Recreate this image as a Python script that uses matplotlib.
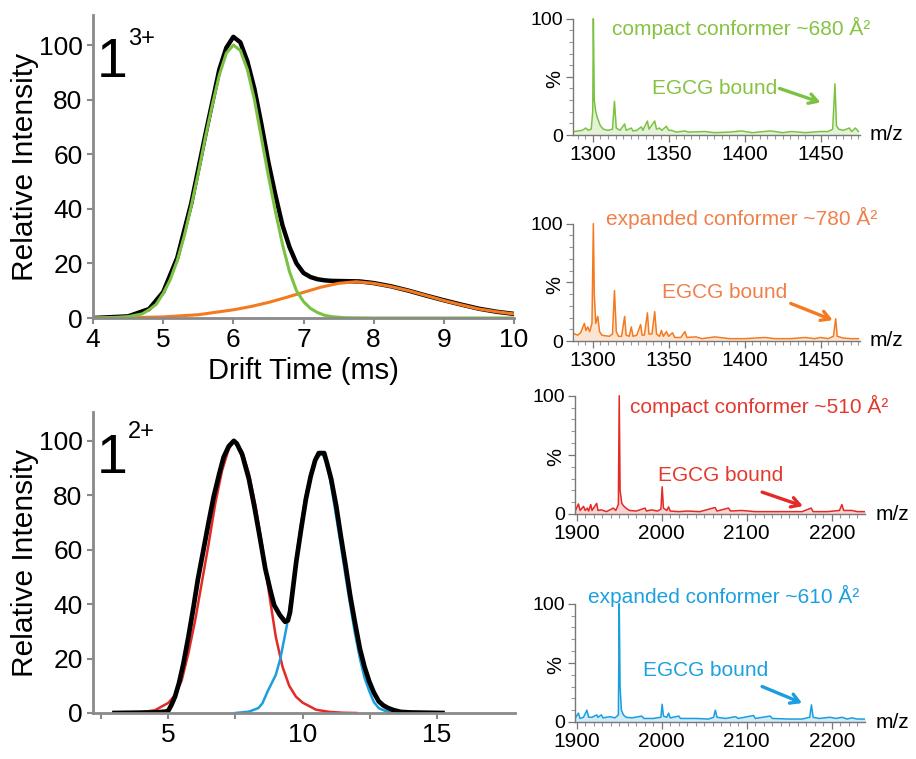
import matplotlib
matplotlib.use("Agg")
import matplotlib.pyplot as plt
from matplotlib.ticker import MultipleLocator, FixedLocator
import matplotlib.transforms as mtransforms

plt.rcParams['font.family'] = ['Liberation Sans', 'DejaVu Sans']

# ---- drift time data, charge state 3+ ----
dt3_green = [4.0, 4.3, 4.5, 4.7, 4.8, 4.9, 5.0, 5.1, 5.2, 5.3, 5.4, 5.5, 5.6, 5.7, 5.8, 5.9,
             6.0, 6.1, 6.2, 6.3, 6.4, 6.5, 6.6, 6.7, 6.8, 6.9, 7.0, 7.1, 7.2, 7.3, 7.4, 7.6, 8.0, 10.0]
int3_green = [0, 0.2, 0.5, 1.5, 3, 5, 9, 14, 21, 30, 41, 53, 66, 78, 89, 97,
              100, 98, 91, 80, 66, 52, 39, 27, 17, 10, 6, 3.5, 2, 1, 0.5, 0.1, 0, 0]
dt3_orange = [4.0, 4.5, 5.0, 5.5, 6.0, 6.25, 6.5, 6.75, 7.0, 7.25, 7.5, 7.75, 8.0, 8.25,
              8.5, 8.75, 9.0, 9.25, 9.5, 9.75, 10.0]
int3_orange = [0, 0.1, 0.4, 1.2, 3, 4.2, 5.7, 7.5, 9.4, 11.3, 12.7, 13.3, 12.7, 11.5,
               10, 8.2, 6.4, 4.8, 3.3, 2.3, 1.5]
dt3_total = [4.0, 4.5, 4.8, 5.0, 5.2, 5.4, 5.6, 5.8, 5.9, 6.0, 6.1, 6.2, 6.3, 6.4, 6.5, 6.6,
             6.7, 6.8, 6.9, 7.0, 7.1, 7.2, 7.3, 7.4, 7.6, 7.8, 8.0, 8.25, 8.5, 8.75, 9.0,
             9.25, 9.5, 9.75, 10.0]
int3_total = [0, 0.6, 3.3, 9.5, 22, 42, 67, 91, 99, 103, 101, 94, 84, 71, 57, 45,
              34, 26, 20, 16.5, 15, 14.2, 13.8, 13.6, 13.5, 13.4, 12.8, 11.6, 10, 8.2, 6.5,
              4.9, 3.4, 2.3, 1.5]

# ---- drift time data, charge state 2+ ----
dt2_red = [3.0, 3.5, 4.0, 4.5, 5.0, 5.25, 5.5, 5.75, 6.0, 6.25, 6.5, 6.75, 7.0, 7.25, 7.45,
           7.75, 8.0, 8.25, 8.5, 8.75, 9.0, 9.25, 9.5, 9.75, 10.0, 10.5, 11.0, 11.5, 12.0]
int2_red = [0, 0.1, 0.3, 1.0, 3.7, 6.5, 12, 22, 34, 48, 62, 77, 89, 97, 100,
            96, 88, 76, 61, 44, 28, 17, 10, 6, 3.8, 1.2, 0.4, 0.1, 0]
dt2_blue = [7.5, 8.0, 8.35, 8.5, 8.7, 9.0, 9.17, 9.41, 9.6, 9.76, 9.95, 10.12, 10.3, 10.47,
            10.71, 10.9, 11.06, 11.25, 11.42, 11.6, 11.77, 11.95, 12.13, 12.3, 12.48, 12.65,
            12.83, 13.18, 13.5]
int2_blue = [0, 0.5, 1.8, 3.5, 8, 14, 20, 32, 44, 57, 70, 80, 88, 92.5,
             95.7, 92, 83.5, 72, 61.6, 50, 39.6, 29, 20, 13, 8, 4,
             1.8, 0.3, 0]
dt2_total = [3.0, 4.5, 4.9, 5.0, 5.12, 5.25, 5.4, 5.56, 5.75, 5.94, 6.1, 6.31, 6.5, 6.69, 6.9,
             7.06, 7.25, 7.44, 7.55, 7.75, 8.0, 8.2, 8.4, 8.61, 8.8, 8.94, 9.15, 9.35, 9.45,
             9.53, 9.76, 9.95, 10.12, 10.3, 10.47, 10.6, 10.8, 10.9, 11.06, 11.25, 11.42, 11.6,
             11.77, 11.95, 12.13, 12.3, 12.48, 12.65, 12.83, 13.0, 13.18, 13.4, 13.65, 14.0, 15.2]
int2_total = [0, 0.2, 0.5, 0.8, 3, 6, 11, 18, 28, 39, 49, 60, 70, 79.5, 88,
              94, 98, 100, 99, 95, 86, 76, 65, 53, 45, 39.6, 36, 33.5, 34,
              37, 55.5, 68, 78.6, 87, 93, 95.5, 95.5, 92, 86, 76, 65, 54,
              43, 33, 23.6, 17, 11.5, 7.5, 4.3, 2.8, 1.8, 1, 0.4, 0.2, 0]

# ---- mass spectra ----
mz_a = [1288, 1293, 1295.5, 1297, 1299, 1300, 1300.4, 1301, 1302, 1303, 1305, 1307, 1310, 1313,
        1314.3, 1315.5, 1318, 1321, 1322, 1325.4, 1326.5, 1329, 1332, 1333, 1336, 1337, 1340.8,
        1342, 1344, 1345.5, 1348.5, 1350, 1352, 1355, 1360.7, 1363, 1374, 1380, 1390, 1398,
        1405, 1417, 1425, 1431, 1440, 1450, 1455, 1458, 1459.5, 1460.5, 1462, 1465, 1469,
        1470.5, 1473, 1475]
pc_a = [3, 4, 6, 4, 5, 20, 100, 30, 20, 15, 8, 5, 4, 5,
        29, 6, 4, 9.5, 4, 6, 3.5, 4, 7, 4, 12, 5, 12,
        5, 6, 4, 7.5, 4, 4, 2.5, 3.5, 2.5, 3, 2, 2.5, 3.5,
        2, 3.5, 2, 3, 2, 3, 3, 5, 44, 8, 5, 4, 6,
        3, 6, 3]
mz_b = [1288, 1290, 1292, 1294.5, 1295.5, 1296.7, 1298, 1299.5, 1300.4, 1301, 1302, 1303.3,
        1304.5, 1306, 1308, 1311, 1313, 1314.3, 1315.5, 1317, 1319, 1321, 1322, 1324, 1325.4,
        1326.5, 1329, 1331.5, 1332.5, 1334, 1336, 1337, 1339, 1340.8, 1342, 1344, 1345.2,
        1346.5, 1348.5, 1350, 1352.5, 1354, 1358, 1360.7, 1362, 1368, 1372, 1380.5, 1390,
        1400, 1413.6, 1420, 1430, 1440, 1446, 1450, 1455, 1458.5, 1460, 1461, 1465, 1470, 1475]
pc_b = [6, 5, 7, 15, 9, 12, 8, 15, 100, 40, 15, 21,
        8, 5, 4.5, 4, 6, 43, 8, 4, 4, 21, 5, 4, 12,
        4, 5, 14, 5, 5, 24, 6, 6, 25, 6, 4, 9,
        4, 8, 4, 7, 3, 3, 8, 3, 3.5, 2, 3.5, 2,
        2, 3, 2, 2, 3, 2, 3, 2, 4, 19, 4, 2.5, 2, 2]
mz_c = [1898, 1902, 1904, 1908, 1910, 1912.5, 1914, 1916.5, 1918, 1923.5, 1925, 1929, 1935,
        1943, 1946, 1949, 1950, 1951, 1953, 1955, 1958, 1962, 1970, 1980.4, 1982, 1988, 1995,
        1999, 2000.5, 2002, 2006, 2008, 2010, 2020, 2030, 2045, 2062.7, 2065, 2078.4, 2081,
        2094, 2110, 2130, 2150, 2165, 2175.7, 2178, 2195, 2209, 2211.8, 2214, 2223.5, 2230, 2240]
pc_c = [2, 8.5, 3, 6.5, 3, 5, 2.5, 8, 3, 9, 3, 3.5, 2,
        5, 3, 8, 100, 20, 9, 7, 5, 3, 2.5, 5, 2.5, 3.5, 2.5,
        4, 23, 5, 3, 6, 2.5, 2, 2.5, 2, 5.5, 2.5, 5, 2.5,
        3, 2, 2, 2, 2, 5, 2, 2, 3, 8, 3, 3, 2, 2]
mz_d = [1898, 1902, 1904, 1908, 1912, 1914, 1918, 1923.5, 1925, 1929, 1931, 1939, 1945, 1949,
        1950, 1951, 1952.5, 1955, 1958, 1965, 1976.5, 1979, 1990, 1999, 2000.5, 2002, 2006,
        2008, 2010, 2020, 2022, 2040, 2055, 2061, 2063, 2065, 2075, 2086.7, 2090, 2108, 2110,
        2127.5, 2130, 2150, 2165, 2174, 2176, 2178, 2185, 2198, 2205, 2212, 2218, 2223.5,
        2230, 2240]
pc_d = [3, 7.5, 3, 4, 10, 4, 4, 6, 4, 6, 3.5, 4.5, 3.5, 6,
        100, 30, 10, 6, 4, 3.5, 5, 3, 3, 4, 15, 5, 4,
        7.5, 3.5, 5, 3, 3, 2.5, 4, 10, 4, 3, 4.5, 3, 5.5, 3,
        5, 3, 2.5, 2.5, 4, 14.5, 4, 3, 4, 3, 4, 2.5, 3.5,
        2.5, 2.5]

spec_titles = ['compact conformer ~680 Å²', 'expanded conformer ~780 Å²',
               'compact conformer ~510 Å²', 'expanded conformer ~610 Å²']

GREEN = '#7cc242'
ORANGE = '#f47a20'
RED = '#e32a26'
BLUE = '#1a9ee0'
GRAY = '#8a8a8a'

W, H = 916, 759


def box(l, t, r, b):
    return [l / W, 1 - b / H, (r - l) / W, (b - t) / H]


fig = plt.figure(figsize=(W / 100, H / 100), dpi=100)


def style_drift(ax):
    for s in ['top', 'right']:
        ax.spines[s].set_visible(False)
    for s in ['left', 'bottom']:
        ax.spines[s].set_color(GRAY)
        ax.spines[s].set_linewidth(2.0)
    ax.tick_params(colors=GRAY, labelcolor='black', width=1.5, length=4, labelsize=19)
    ax.set_yticks([0, 20, 40, 60, 80, 100])
    ax.set_ylabel('Relative Intensity', fontsize=21.5, labelpad=0)


# top-left: 1 3+
ax1 = fig.add_axes(box(93, 15, 514, 318))
ax1.plot(dt3_total, int3_total, color='black', lw=3.2, solid_joinstyle='round')
ax1.plot(dt3_orange, int3_orange, color=ORANGE, lw=2.2)
ax1.plot(dt3_green, int3_green, color=GREEN, lw=2.2)
ax1.set_xlim(4, 10)
ax1.set_ylim(0, 111)
style_drift(ax1)
ax1.set_xticks([4, 5, 6, 7, 8, 9, 10])
ax1.set_xlabel('Drift Time (ms)', fontsize=21, labelpad=3)

# bottom-left: 1 2+
ax2 = fig.add_axes(box(93, 412, 515, 713))
ax2.plot(dt2_red, int2_red, color=RED, lw=1.8)
ax2.plot(dt2_blue, int2_blue, color=BLUE, lw=1.8)
ax2.plot(dt2_total, int2_total, color='black', lw=3.4, solid_joinstyle='round')
ax2.set_xlim(2.2, 17.9)
ax2.set_ylim(0, 110.6)
style_drift(ax2)
ax2.set_xticks([2.5, 5, 7.5, 10, 12.5, 15])
ax2.set_xticklabels(['', '5', '', '10', '', '15'])

# charge state labels
for y1, ysup, sup in [(77, 45, '3+'), (473, 438, '2+')]:
    fig.text(97 / W, 1 - y1 / H, '1', fontsize=40, va='baseline', ha='left')
    fig.text(128 / W, 1 - ysup / H, sup, fontsize=17, va='baseline', ha='left')

# ---- spectra ----
spec_boxes = [box(573, 14, 860, 135), box(573, 219, 860, 341),
              box(575, 391, 865, 514), box(575, 599, 865, 722)]
spec_data = [(mz_a, pc_a), (mz_b, pc_b), (mz_c, pc_c), (mz_d, pc_d)]
spec_colors = [GREEN, ORANGE, RED, BLUE]
text_colors = ['#85c341', '#f0804a', '#e33a30', '#1ca0e0']
spec_xlim = [(1287, 1476), (1287, 1476), (1898, 2239), (1898, 2239)]
title_pos = [(1312.8, 92), (1308.8, 105), (1962.7, 91.6), (1913.3, 106.7)]
egcg_pos = [(1339, 40), (1345.8, 41.5), (1995.6, 32.8), (1978, 43.7)]
arrow_tail = [(1423, 40), (1430.4, 32), (2118, 18.5), (2118, 30)]
arrow_head = [(1450, 28), (1458, 17.8), (2166, 6.7), (2165, 16)]

for i in range(4):
    ax = fig.add_axes(spec_boxes[i])
    mz, pc = spec_data[i]
    ax.fill_between(mz, 0, pc, color=spec_colors[i], alpha=0.2, lw=0)
    ax.plot(mz, pc, color=spec_colors[i], lw=1.1)
    ax.set_xlim(*spec_xlim[i])
    ax.set_ylim(0, 104)
    for s in ['top', 'right']:
        ax.spines[s].set_visible(False)
    for s in ['left', 'bottom']:
        ax.spines[s].set_color('#777777')
        ax.spines[s].set_linewidth(1.0)
    ax.spines['left'].set_bounds(0, 100)
    ax.yaxis.set_major_locator(FixedLocator([0, 50, 100]))
    ax.set_yticklabels(['0', '', '100'])
    ax.yaxis.set_minor_locator(MultipleLocator(10))
    if i < 2:
        ax.xaxis.set_major_locator(FixedLocator([1300, 1350, 1400, 1450]))
        ax.xaxis.set_minor_locator(MultipleLocator(5))
    else:
        ax.xaxis.set_major_locator(FixedLocator([1900, 2000, 2100, 2200]))
        ax.xaxis.set_minor_locator(MultipleLocator(10))
    ax.tick_params(which='major', colors='#777777', labelcolor='black', length=5,
                   width=0.9, labelsize=15, pad=2)
    ax.tick_params(axis='y', which='major', labelsize=14)
    ax.tick_params(which='minor', colors='#999999', length=3, width=0.8)
    ax.text(1.035, 0, 'm/z', transform=ax.transAxes, fontsize=15, va='center', ha='left')
    trans = mtransforms.blended_transform_factory(ax.transAxes, ax.transData)
    ax.text(-0.065, 48, '%', transform=trans, rotation=90, fontsize=14.5,
            va='center', ha='center')
    ax.text(*title_pos[i], spec_titles[i], color=text_colors[i], fontsize=15,
            va='center', ha='left', clip_on=False)
    ax.text(*egcg_pos[i], 'EGCG bound', color=text_colors[i], fontsize=15,
            va='center', ha='left')
    ax.annotate('', xy=arrow_head[i], xytext=arrow_tail[i],
                arrowprops=dict(arrowstyle='->,head_length=0.6,head_width=0.35',
                                color=spec_colors[i], lw=2.4, shrinkA=0, shrinkB=0))

fig.savefig('out.png', dpi=100)
